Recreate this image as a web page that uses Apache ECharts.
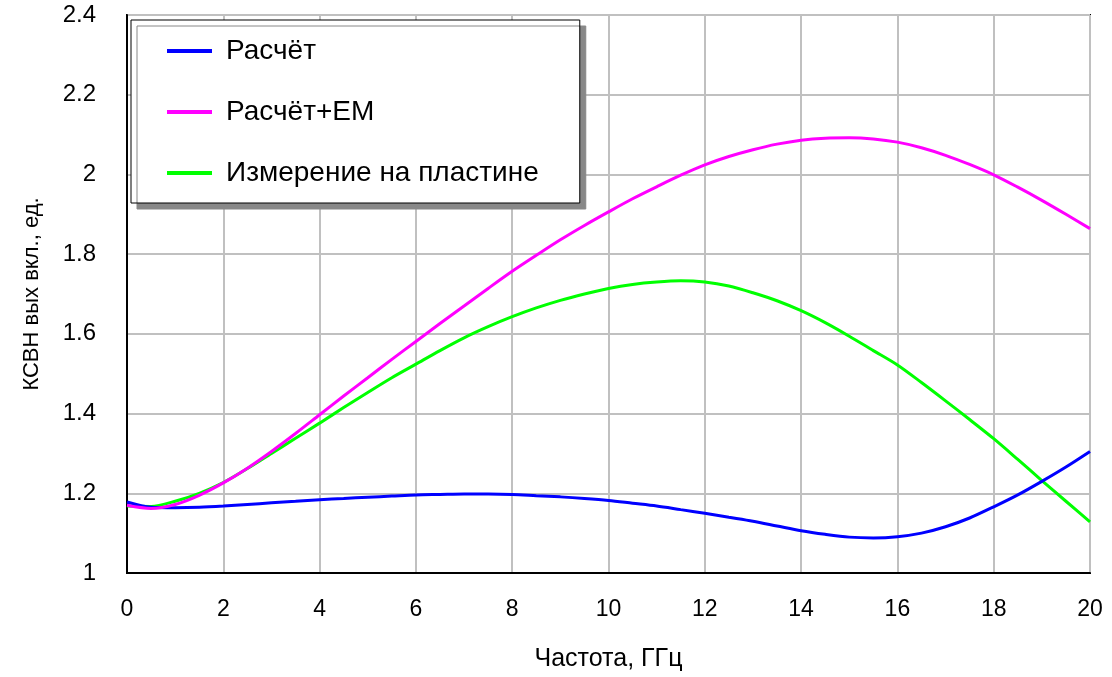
<!DOCTYPE html>
<html><head><meta charset="utf-8">
<script src="https://cdn.jsdelivr.net/npm/echarts@6/dist/echarts.min.js"></script>
<style>html,body{margin:0;padding:0;background:#fff}#c{width:1112px;height:677px}</style>
</head><body><div id="c"></div>
<script>
const seriesNames = ['Расчёт', 'Расчёт+EM', 'Измерение на пластине'];
const freq = [0,0.5,1,1.5,2,2.5,3,3.5,4,4.5,5,5.5,6,6.5,7,7.5,8,8.5,9,9.5,10,10.5,11,11.5,12,12.5,13,13.5,14,14.5,15,15.5,16,16.5,17,17.5,18,18.5,19,19.5,20];
const calc = [1.178,1.165,1.164,1.165,1.168,1.172,1.176,1.18,1.184,1.187,1.19,1.193,1.196,1.197,1.198,1.198,1.197,1.194,1.191,1.187,1.182,1.175,1.168,1.159,1.15,1.14,1.13,1.118,1.106,1.097,1.09,1.088,1.091,1.1,1.116,1.138,1.166,1.196,1.23,1.266,1.305];
const calcEM = [1.17,1.162,1.172,1.195,1.226,1.263,1.305,1.35,1.397,1.444,1.49,1.536,1.581,1.626,1.67,1.714,1.757,1.797,1.836,1.872,1.906,1.939,1.969,1.998,2.024,2.045,2.062,2.076,2.086,2.091,2.092,2.089,2.081,2.067,2.048,2.025,1.999,1.968,1.935,1.9,1.864];
const meas = [1.168,1.167,1.18,1.2,1.227,1.262,1.3,1.338,1.376,1.415,1.453,1.49,1.524,1.558,1.59,1.618,1.643,1.665,1.684,1.7,1.714,1.724,1.73,1.733,1.73,1.72,1.703,1.683,1.658,1.628,1.594,1.558,1.522,1.478,1.432,1.385,1.337,1.285,1.232,1.18,1.128];
const xTicks = {min:0, max:20, interval:2};
const yTicks = {min:1, max:2.4, interval:0.2};

const zip = (xs, ys) => xs.map((x,i)=>[x, ys[i]]);
const chart = echarts.init(document.getElementById('c'));
const font = 'Liberation Sans, Arial, sans-serif';
chart.setOption({
  animation:false,
  backgroundColor:'#fff',
  grid:{left:127, right:22, top:15, bottom:102, show:true, borderColor:'#000', borderWidth:2, backgroundColor:'transparent'},
  legend:{
    orient:'vertical', left:131, top:20,
    backgroundColor:'#fff', borderColor:'#000', borderWidth:1,
    shadowColor:'#888', shadowOffsetX:6, shadowOffsetY:6, shadowBlur:0,
    padding:[17, 41, 16, 36],
    itemWidth:45, itemHeight:4, itemGap:33, icon:'rect',
    textStyle:{fontFamily:font, fontSize:28, color:'#000', padding:[0,0,0,9], lineHeight:28},
    data:seriesNames
  },
  xAxis:{
    type:'value', min:xTicks.min, max:xTicks.max, interval:xTicks.interval,
    name:'Частота, ГГц', nameLocation:'middle', nameGap:74,
    nameTextStyle:{fontFamily:font, fontSize:25, color:'#000'},
    axisLine:{show:true, lineStyle:{color:'#000', width:2}},
    axisTick:{show:false},
    axisLabel:{fontFamily:font, fontSize:23, color:'#000', margin:25},
    splitLine:{show:true, lineStyle:{color:'#c0c0c0', width:2}}
  },
  yAxis:{
    type:'value', min:yTicks.min, max:yTicks.max, interval:yTicks.interval,
    name:'КСВН вых вкл., ед.', nameLocation:'middle', nameGap:84,
    nameTextStyle:{fontFamily:font, fontSize:22, color:'#000'},
    axisLine:{show:true, lineStyle:{color:'#000', width:2}},
    axisTick:{show:false},
    axisLabel:{fontFamily:font, fontSize:24, color:'#000', margin:31},
    splitLine:{show:true, lineStyle:{color:'#c0c0c0', width:2}}
  },
  series:[
    {name:seriesNames[0], type:'line', data:zip(freq, calc), smooth:0.3, showSymbol:false, color:'#0000ff', lineStyle:{width:3, color:'#0000ff'}, z:3},
    {name:seriesNames[1], type:'line', data:zip(freq, calcEM), smooth:0.3, showSymbol:false, color:'#ff00ff', lineStyle:{width:3, color:'#ff00ff'}, z:4},
    {name:seriesNames[2], type:'line', data:zip(freq, meas), smooth:0.3, showSymbol:false, color:'#00ff00', lineStyle:{width:3, color:'#00ff00'}, z:2}
  ]
});
</script></body></html>
